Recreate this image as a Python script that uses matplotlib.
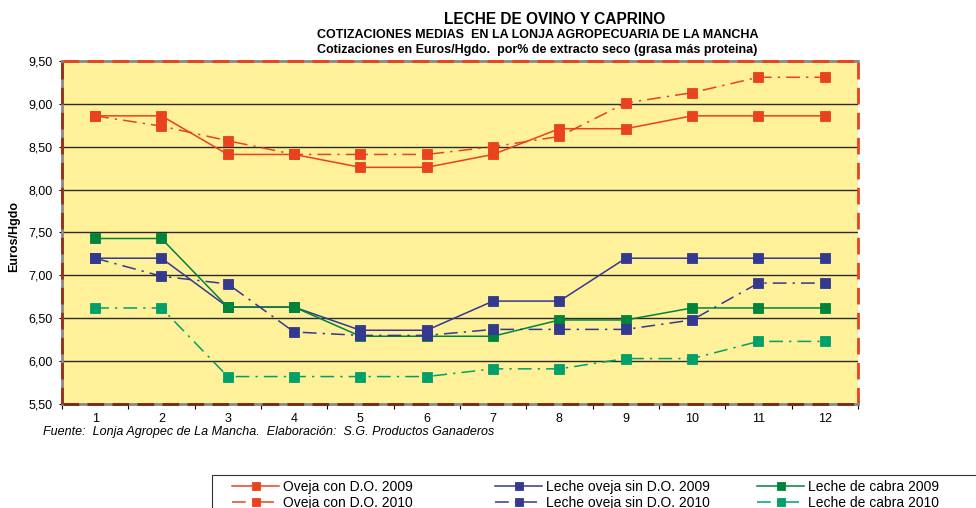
import matplotlib.pyplot as plt
import matplotlib.ticker as ticker
from matplotlib.patches import Rectangle

plt.rcParams['font.family'] = ['Liberation Sans', 'DejaVu Sans']

meses = list(range(1, 13))

oveja_do_2009 = [8.86, 8.86, 8.41, 8.41, 8.26, 8.26, 8.41, 8.71, 8.71, 8.86, 8.86, 8.86]
oveja_do_2010 = [8.86, 8.74, 8.57, 8.41, 8.41, 8.41, 8.50, 8.62, 9.01, 9.13, 9.31, 9.31]
oveja_sin_2009 = [7.20, 7.20, 6.63, 6.63, 6.36, 6.36, 6.70, 6.70, 7.20, 7.20, 7.20, 7.20]
oveja_sin_2010 = [7.20, 6.99, 6.90, 6.34, 6.30, 6.30, 6.37, 6.37, 6.37, 6.48, 6.91, 6.91]
cabra_2009 = [7.43, 7.43, 6.63, 6.63, 6.29, 6.29, 6.29, 6.48, 6.48, 6.62, 6.62, 6.62]
cabra_2010 = [6.62, 6.62, 5.82, 5.82, 5.82, 5.82, 5.91, 5.91, 6.03, 6.03, 6.23, 6.23]

rojo = '#E8421E'
azul = '#33398F'
verde = '#00843C'
verde2 = '#00A06A'
dashdot = (0, (9, 4, 1.5, 4))

fig = plt.figure(figsize=(9.76, 5.08), dpi=100)
ax = fig.add_axes([0.0635, 0.2047, 0.8155, 0.6753])
ax.set_facecolor('#FFF09A')

for y in [6.0, 6.5, 7.0, 7.5, 8.0, 8.5, 9.0]:
    ax.axhline(y, color='#2a2a2a', lw=1.0, zorder=1)

series = [
    (oveja_do_2009, rojo, '-', 'Oveja con D.O. 2009'),
    (oveja_sin_2009, azul, '-', 'Leche oveja sin D.O. 2009'),
    (cabra_2009, verde, '-', 'Leche de cabra 2009'),
    (oveja_do_2010, rojo, dashdot, 'Oveja con D.O. 2010'),
    (oveja_sin_2010, azul, dashdot, 'Leche oveja sin D.O. 2010'),
    (cabra_2010, verde2, dashdot, 'Leche de cabra 2010'),
]
lines = {}
for vals, col, ls, lab in series:
    l, = ax.plot(meses, vals, color=col, linestyle=ls, lw=1.1, marker='s',
                 markersize=7.5, markerfacecolor=col, markeredgecolor=col,
                 markeredgewidth=0.6, label=lab, zorder=3)
    lines[lab] = l

ax.set_xlim(0.5, 12.5)
ax.set_ylim(5.5, 9.5)
ax.yaxis.set_major_locator(ticker.MultipleLocator(0.5))
ax.yaxis.set_major_formatter(ticker.FuncFormatter(lambda v, p: f'{v:.2f}'.replace('.', ',')))
ax.set_xticks(meses)
ax.set_xticks([m + 0.5 for m in range(0, 13)], minor=True)
ax.tick_params(axis='x', which='major', length=0, pad=6.5, labelsize=9)
ax.tick_params(axis='x', which='minor', length=3.6, width=0.8, direction='out')
ax.tick_params(axis='y', length=2.5, width=0.8, labelsize=9, pad=4.3)

# dashed frame
for s in ax.spines.values():
    s.set_visible(False)
frame = dict(transform=ax.transAxes, clip_on=False, zorder=5)
ax.plot([0, 1], [1, 1], color='#888888', lw=2, **frame)
ax.plot([0, 1], [1, 1], color=rojo, lw=2, dashes=(6, 3), **frame)
ax.plot([1, 1], [0, 1], color=rojo, lw=2, dashes=(6, 3), **frame)
ax.plot([0, 1], [0, 0], color='#888888', lw=2, **frame)
ax.plot([0, 1], [0, 0], color='#7A2A10', lw=2, dashes=(6, 3), **frame)
ax.plot([0, 0], [0, 1], color='#888888', lw=2, **frame)
ax.plot([0, 0], [0, 1], color='#9A3010', lw=2, dashes=(6, 3), **frame)

ax.set_ylabel('Euros/Hgdo', fontsize=9, fontweight='bold')
ax.yaxis.set_label_coords(-0.052, 0.488)

fig.text(0.5686, 0.961, 'LECHE DE OVINO Y CAPRINO', ha='center', va='center',
         fontsize=11.2, fontweight='bold')
fig.text(317 / 976, 1 - 35.5 / 508, 'COTIZACIONES MEDIAS  EN LA LONJA AGROPECUARIA DE LA MANCHA',
         ha='left', va='center', fontsize=9.0, fontweight='bold')
fig.text(317 / 976, 1 - 50 / 508, 'Cotizaciones en Euros/Hgdo.  por% de extracto seco (grasa más proteina)',
         ha='left', va='center', fontsize=9.0, fontweight='bold')
fig.text(43 / 976, 1 - 432 / 508, 'Fuente:  Lonja Agropec de La Mancha.  Elaboración:  S.G. Productos Ganaderos',
         ha='left', va='center', fontsize=9, style='italic')

# legend: three columns, box runs off the page
columnas = [
    (232, ['Oveja con D.O. 2009', 'Oveja con D.O. 2010']),
    (495, ['Leche oveja sin D.O. 2009', 'Leche oveja sin D.O. 2010']),
    (757, ['Leche de cabra 2009', 'Leche de cabra 2010']),
]
for x0, labs in columnas:
    fig.legend([lines[k] for k in labs], labs, loc='upper left',
               bbox_to_anchor=(x0 / 976, 1 - 480 / 508), frameon=False,
               fontsize=10, borderpad=0, borderaxespad=0, handlelength=3.4,
               handletextpad=0.3, labelspacing=0.15, markerscale=0.8)
fig.add_artist(Rectangle((212 / 976, -0.2), 2, 0.2 + (508 - 475) / 508,
                         transform=fig.transFigure, fill=False,
                         edgecolor='#333333', lw=0.8))

fig.savefig('out.png', dpi=100)
